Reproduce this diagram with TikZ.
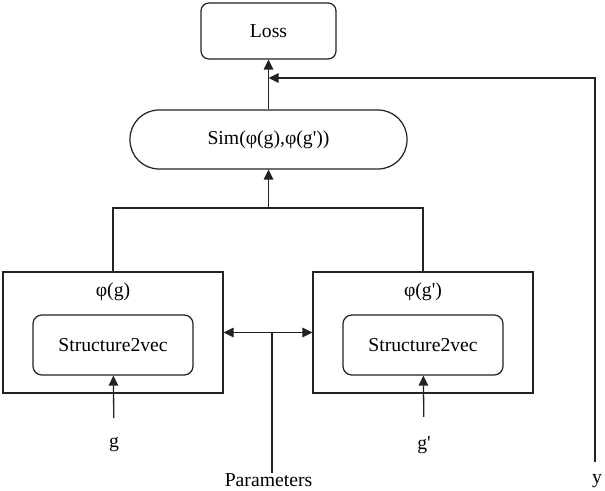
\documentclass[tikz,border=0pt]{standalone}
\usepackage{fontspec}
\setmainfont{Liberation Serif}
\usetikzlibrary{arrows.meta, positioning}
\definecolor{dgLine}{RGB}{34, 34, 34}
\newcommand{\dgfont}{\fontsize{11.2}{13}\selectfont}
\newcommand{\gprime}{\textquotesingle}
\tikzset{
  lossbox/.style={rectangle, rounded corners=4.5pt, draw=dgLine, line width=0.7pt, minimum width=2.7cm, minimum height=1.12cm, inner sep=0pt, align=center, font=\dgfont},
  simbox/.style={rectangle, rounded corners=0.58cm, draw=dgLine, line width=0.7pt, minimum width=5.54cm, minimum height=1.18cm, inner sep=0pt, align=center, font=\dgfont},
  encbox/.style={rectangle, draw=dgLine, line width=0.7pt, minimum width=4.4cm, minimum height=2.42cm, inner sep=0pt},
  svbox/.style={rectangle, rounded corners=5pt, draw=dgLine, line width=0.7pt, minimum width=3.2cm, minimum height=1.2cm, inner sep=0pt, align=center, font=\dgfont},
  lbl/.style={inner sep=1pt, font=\dgfont},
  myarrow/.style={-{Triangle[length=2mm, width=1.9mm]}, line width=0.75pt, dgLine},
  myline/.style={line width=0.75pt, dgLine},
}

\begin{document}
\begin{tikzpicture}
  \useasboundingbox (0,0) rectangle (12.1,-9.82);
  % Top
  \node[lossbox] (loss) at (5.37, -0.62) {Loss};
  \node[simbox] (sim) at (5.37, -2.79) {Sim(φ(g),φ(g\gprime))};

  % Encoders
  \node[encbox] (phil) at (2.26, -6.65) {};
  \node[encbox] (phir) at (8.46, -6.65) {};
  \node[lbl] at (2.26, -5.84) {φ(g)};
  \node[lbl] at (8.46, -5.84) {φ(g\gprime)};
  \node[svbox] (svl) at (2.26, -6.9) {Structure2vec};
  \node[svbox] (svr) at (8.46, -6.9) {Structure2vec};

  % Inputs
  \node[lbl] (gl) at (2.28, -8.9) {g};
  \node[lbl] (gr) at (8.48, -8.9) {g\gprime};
  \node[lbl, inner sep=0pt] (params) at (5.37, -9.6) {Parameters};
  \node[lbl, inner sep=0pt] (ylab) at (11.94, -9.62) {y};

  \coordinate (join) at (5.37, -4.16);
  \coordinate (pj) at (5.44, -6.65);
  \coordinate (yin) at (5.37, -1.56);

  % Arrows
  \draw[myarrow] (sim) -- (loss);
  \draw[myline] (phil.north) |- (join) -| (phir.north);
  \draw[myarrow] (join) -- (sim);
  \draw[myarrow, shorten <=0.35cm] (gl.north) -- (svl);
  \draw[myarrow, shorten <=0.35cm] (gr.north) -- (svr);
  \draw[myarrow] (pj) -- (phil);
  \draw[myarrow] (pj) -- (phir);
  \draw[myline] (params.north -| pj) -- (pj);
  \draw[myarrow, shorten <=0.24cm] (ylab.north -| 11.9,0) |- (yin);
\end{tikzpicture}
\end{document}
